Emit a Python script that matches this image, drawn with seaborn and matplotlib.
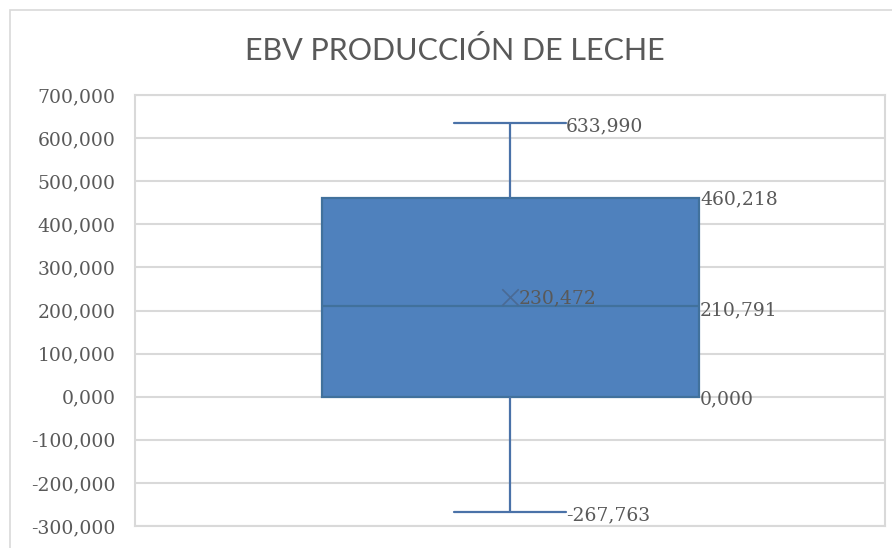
import numpy as np
import pandas as pd
import matplotlib
matplotlib.use("Agg")
import matplotlib.pyplot as plt
from matplotlib.ticker import FuncFormatter
from matplotlib.patches import Rectangle
import seaborn as sns

# ---- data ----
title = "EBV PRODUCCIÓN DE LECHE"
summary_values = [-267.763, 0.000, 210.791, 460.218, 633.990]  # min, Q1, median, Q3, max
mean_value = 230.472
y_ticks = [-300, -200, -100, 0, 100, 200, 300, 400, 500, 600, 700]

def fmt(v):
    return f"{v:.3f}".replace(".", ",")

sns.set_theme(style="white")
plt.rcParams["font.family"] = ["DejaVu Serif"]

fig = plt.figure(figsize=(8.92, 5.48), dpi=100)
ax = fig.add_axes([135 / 892, 1 - 526 / 548, 750 / 892, (526 - 95) / 548])

fill = "#4F81BD"
edge = "#41719C"
line = "#4A72A8"

df = pd.DataFrame({"EBV": summary_values})
box_w = 377 / 750
cap_w = 112 / 750
sns.boxplot(data=df, y="EBV", ax=ax, whis=(0, 100), width=box_w,
            showfliers=False, capwidths=cap_w,
            boxprops=dict(facecolor=fill, edgecolor=edge, linewidth=1.6),
            medianprops=dict(color=edge, linewidth=1.6),
            whiskerprops=dict(color=line, linewidth=1.6),
            capprops=dict(color=line, linewidth=1.6))

ax.scatter([0], [mean_value], marker="x", s=140, color="#4A6A94", linewidths=1.2, zorder=5)

ax.set_xlim(-0.5, 0.5)
ax.set_ylim(y_ticks[0], y_ticks[-1])
ax.set_yticks(y_ticks)
ax.yaxis.set_major_formatter(FuncFormatter(lambda v, p: fmt(v)))
ax.set_xticks([])
ax.set_xlabel("")
ax.set_ylabel("")
ax.grid(axis="y", color="#D9D9D9", linewidth=1.5)
ax.set_axisbelow(True)
for s in ax.spines.values():
    s.set_color("#D9D9D9")
    s.set_linewidth(1.5)
ax.tick_params(axis="y", labelsize=13.5, labelcolor="#595959", length=0, pad=14)

tcol = "#595959"
fs = 13.5
half_box = box_w / 2
half_cap = cap_w / 2
mn, q1, med, q3, mx = summary_values
ax.annotate(fmt(mx), (half_cap, mx), xytext=(0, -2), textcoords="offset points",
            ha="left", va="center", fontsize=fs, color=tcol)
ax.annotate(fmt(mn), (half_cap, mn), xytext=(0, -2), textcoords="offset points",
            ha="left", va="center", fontsize=fs, color=tcol)
ax.annotate(fmt(q3), (half_box, q3), xytext=(1, -1), textcoords="offset points",
            ha="left", va="center", fontsize=fs, color=tcol)
ax.annotate(fmt(med), (half_box, med), xytext=(1, -3), textcoords="offset points",
            ha="left", va="center", fontsize=fs, color=tcol)
ax.annotate(fmt(q1), (half_box, q1), xytext=(1, -2), textcoords="offset points",
            ha="left", va="center", fontsize=fs, color=tcol)
ax.annotate(fmt(mean_value), (0, mean_value), xytext=(6, -1), textcoords="offset points",
            ha="left", va="center", fontsize=fs, color=tcol)

fig.text(455 / 892, 1 - 50 / 548, title, ha="center", va="center",
         fontsize=22, color=tcol, family=["Lato", "DejaVu Sans"], fontweight="normal")

fig.patches.append(Rectangle((10 / 892, -0.1), 1.2, 1 - 10 / 548 + 0.1,
                             transform=fig.transFigure, fill=False,
                             edgecolor="#D9D9D9", linewidth=1.2))

fig.savefig("out.png", dpi=100)
